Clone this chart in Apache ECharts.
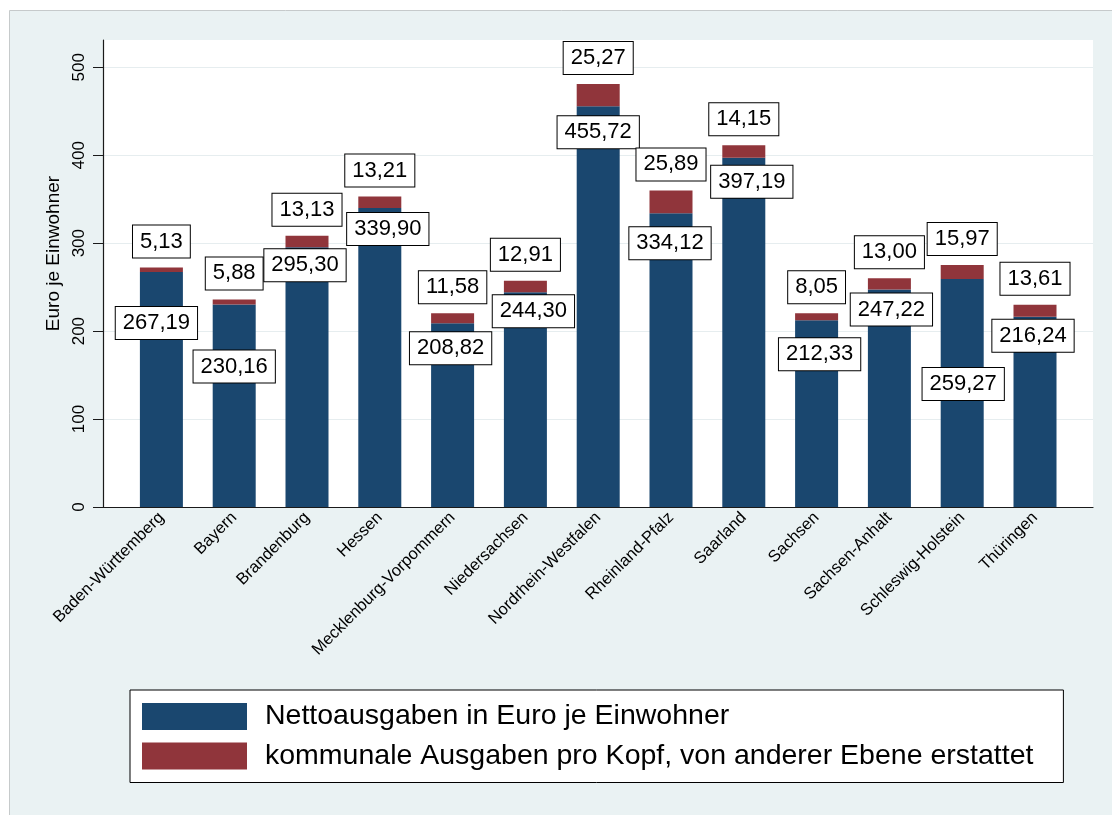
<!DOCTYPE html>
<html><head><meta charset="utf-8">
<script src="https://cdn.jsdelivr.net/npm/echarts@6/dist/echarts.min.js"></script>
<style>html,body{margin:0;padding:0;background:#fff}#c{width:1112px;height:815px}</style>
</head><body><div id="c"></div>
<script>
// ---- data ----
const categories = ['Baden-Württemberg','Bayern','Brandenburg','Hessen','Mecklenburg-Vorpommern','Niedersachsen','Nordrhein-Westfalen','Rheinland-Pfalz','Saarland','Sachsen','Sachsen-Anhalt','Schleswig-Holstein','Thüringen'];
const nettoausgaben = [267.19,230.16,295.30,339.90,208.82,244.30,455.72,334.12,397.19,212.33,247.22,259.27,216.24];
const erstattet = [5.13,5.88,13.13,13.21,11.58,12.91,25.27,25.89,14.15,8.05,13.00,15.97,13.61];
const yTicks = [0,100,200,300,400,500];
const seriesNames = ['Nettoausgaben in Euro je Einwohner','kommunale Ausgaben pro Kopf, von anderer Ebene erstattet'];
const yTitle = 'Euro je Einwohner';

// ---- layout only: pixel offsets of the boxed labels of the first series ----
const nettoLabelOffsets = [[-5,35],[0,46],[-2,2],[8,5],[-2,9],[8,3],[0,10],[-1,14],[8,8],[3,18],[2,4],[1,89],[-2,3]];

const FONT = "'Liberation Sans', Arial, sans-serif";
const fmt = v => v.toFixed(2).replace('.', ',');
const boxLabel = {
  show: true, color: '#000', fontFamily: FONT, fontSize: 22, lineHeight: 24,
  backgroundColor: '#fff', borderColor: '#000', borderWidth: 1, padding: [4, 7, 4, 7],
  formatter: p => fmt(p.value)
};

const chart = echarts.init(document.getElementById('c'), null, {renderer: 'canvas'});
chart.setOption({
  backgroundColor: '#fff',
  animation: false,
  textStyle: {fontFamily: FONT},
  graphic: [{
    type: 'rect', silent: true, z: -100,
    shape: {x: 9.5, y: 10.5, width: 1110, height: 810},
    style: {fill: '#EAF2F3', stroke: '#C6CACB', lineWidth: 1}
  }],
  grid: [
    {left: 103, top: 40, width: 990, height: 467, show: true, backgroundColor: '#fff', borderWidth: 0},
    {left: 125, top: 40, width: 946.4, height: 467}
  ],
  xAxis: [
    {gridIndex: 0, type: 'value', min: 0, max: 1,
     axisLine: {show: true, onZero: false, lineStyle: {color: '#1a1a1a', width: 1.2}},
     axisTick: {show: false}, axisLabel: {show: false}, splitLine: {show: false}},
    {gridIndex: 1, type: 'category', data: categories,
     axisLine: {show: false}, axisTick: {show: false},
     axisLabel: {interval: 0, rotate: 45, margin: 8, fontSize: 16.5, color: '#000', fontFamily: FONT}}
  ],
  yAxis: [
    {gridIndex: 0, type: 'value', min: 0, max: 531, interval: 100,
     name: yTitle, nameLocation: 'middle', nameGap: 40,
     nameTextStyle: {fontSize: 19, color: '#000', fontFamily: FONT, padding: [0, 0, 0, 40]},
     axisLine: {show: true, lineStyle: {color: '#1a1a1a', width: 1.2}},
     axisTick: {show: true, length: 10, customValues: yTicks, lineStyle: {color: '#1a1a1a'}},
     axisLabel: {rotate: 90, margin: 15, fontSize: 17, color: '#000', customValues: yTicks, fontFamily: FONT},
     splitLine: {show: true, lineStyle: {color: '#E6EDEF', width: 1}}},
    {gridIndex: 1, type: 'value', min: 0, max: 531, show: false, splitLine: {show: false}}
  ],
  legend: {
    data: seriesNames, orient: 'vertical', left: 130, top: 690,
    icon: 'rect', itemWidth: 105, itemHeight: 27, itemGap: 10.5,
    padding: [12, 30, 12, 12], borderColor: '#000', borderWidth: 1, backgroundColor: '#fff',
    textStyle: {fontSize: 28.5, color: '#000', fontFamily: FONT, padding: [0, 0, 0, 13]}
  },
  series: [
    {name: seriesNames[0], type: 'bar', stack: 'total', xAxisIndex: 1, yAxisIndex: 1,
     barWidth: 43, itemStyle: {color: '#1A476F'},
     data: nettoausgaben.map((v, i) => ({value: v,
       label: Object.assign({}, boxLabel, {position: 'insideTop', distance: 0,
         offset: [nettoLabelOffsets[i][0], nettoLabelOffsets[i][1]]})}))},
    {name: seriesNames[1], type: 'bar', stack: 'total', xAxisIndex: 1, yAxisIndex: 1,
     barWidth: 43, itemStyle: {color: '#90353B'},
     label: Object.assign({}, boxLabel, {position: 'top', distance: 10}),
     data: erstattet}
  ]
});
</script></body></html>
